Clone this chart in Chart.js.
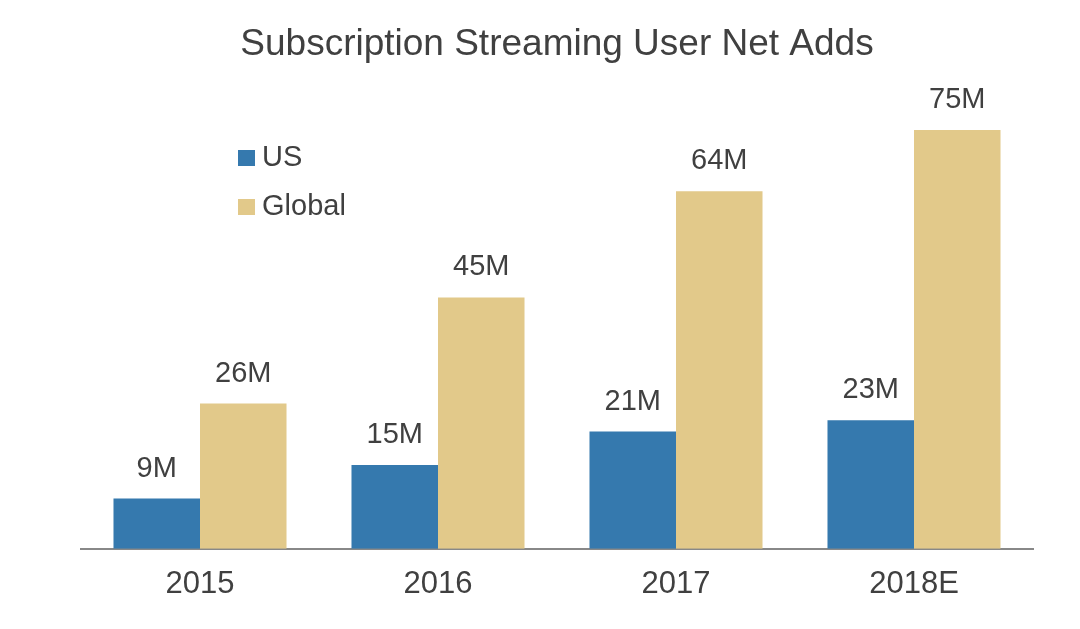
<!DOCTYPE html>
<html>
<head>
<meta charset="utf-8">
<script src="https://cdn.jsdelivr.net/npm/chart.js@4"></script>
<style>
  html, body { margin: 0; padding: 0; background: #fff; }
  #wrap { width: 1080px; height: 629px; }
</style>
</head>
<body>
<div id="wrap"><canvas id="net-adds"></canvas></div>
<script>
// data (millions)
const years = ['2015', '2016', '2017', '2018E'];
const usAdds = [9, 15, 21, 23];
const globalAdds = [26, 45, 64, 75];
const seriesNames = ['US', 'Global'];

const FONT = '"Liberation Sans", Arial, sans-serif';
const TEXT = '#404040';

// title, legend and value labels drawn over the chart
const decor = {
    id: 'decor',
    afterDatasetsDraw(chart) {
        const ctx = chart.ctx;
        const area = chart.chartArea;
        ctx.save();
        ctx.fillStyle = TEXT;
        ctx.textAlign = 'center';
        ctx.textBaseline = 'middle';

        ctx.font = '37px ' + FONT;
        ctx.fillText('Subscription Streaming User Net Adds', (area.left + area.right) / 2, 45);

        ctx.font = '29px ' + FONT;
        chart.data.datasets.forEach((ds, i) => {
            chart.getDatasetMeta(i).data.forEach((bar, j) => {
                ctx.fillText(ds.data[j] + 'M', bar.x, bar.y - 30);
            });
        });

        // legend
        ctx.textAlign = 'left';
        chart.data.datasets.forEach((ds, i) => {
            const y = 158 + i * 49;
            ctx.fillStyle = ds.backgroundColor;
            ctx.fillRect(238, y - 8, 17, 16);
            ctx.fillStyle = TEXT;
            ctx.fillText(ds.label, 262, y);
        });
        ctx.restore();
    }
};

new Chart(document.getElementById('net-adds').getContext('2d'), {
    type: 'bar',
    data: {
        labels: years,
        datasets: [
            { label: seriesNames[0], data: usAdds, backgroundColor: '#3579ae' },
            { label: seriesNames[1], data: globalAdds, backgroundColor: '#e2c98a' }
        ]
    },
    options: {
        responsive: true,
        maintainAspectRatio: false,
        animation: false,
        layout: { padding: { left: 81, right: 47, top: 102, bottom: 9 } },
        datasets: {
            bar: { categoryPercentage: 0.727, barPercentage: 1.0 }
        },
        scales: {
            x: {
                grid: { display: false, drawTicks: false },
                border: { display: true, color: '#888888', width: 2 },
                ticks: { color: TEXT, font: { family: FONT, size: 31 }, padding: 17 }
            },
            y: {
                display: false,
                min: 0,
                max: 80
            }
        },
        plugins: {
            legend: { display: false },
            tooltip: { enabled: false }
        }
    },
    plugins: [decor]
});
</script>
</body>
</html>
